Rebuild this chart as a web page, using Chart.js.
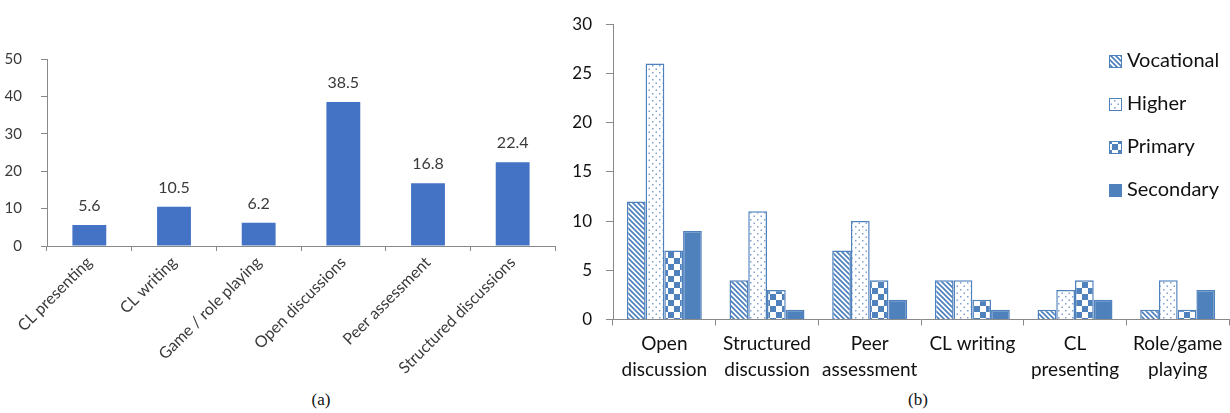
<!DOCTYPE html>
<html lang="en">
<head>
    <meta charset="UTF-8">
    <title>Collaborative learning activities</title>
    <style>
        * { margin: 0; padding: 0; box-sizing: border-box; }
        body { width: 1230px; height: 413px; background: #fff; position: relative; overflow: hidden; font-family: Lato, "Open Sans", sans-serif; }
        #chartA { position: absolute; left: 0; top: 0; }
        #chartB { position: absolute; left: 560px; top: 0; }
        .caption { position: absolute; top: 390px; font-family: "Liberation Serif", "DejaVu Serif", serif; font-size: 17px; color: #111; transform: translateX(-50%); }
    </style>
    <script src="https://cdn.jsdelivr.net/npm/chart.js"></script>
</head>
<body>
    <canvas id="chartA" width="560" height="390"></canvas>
    <canvas id="chartB" width="670" height="390"></canvas>
    <div class="caption" style="left: 321px;">(a)</div>
    <div class="caption" style="left: 918px;">(b)</div>

    <script>
        // (a) share of activities
        const activitiesA = ['CL presenting', 'CL writing', 'Game / role playing', 'Open discussions', 'Peer assessment', 'Structured discussions'];
        const percentA = [5.6, 10.5, 6.2, 38.5, 16.8, 22.4];
        const ticksA = [0, 10, 20, 30, 40, 50];

        // (b) counts by education level
        const activitiesB = [['Open', 'discussion'], ['Structured', 'discussion'], ['Peer', 'assessment'], ['CL writing'], ['CL', 'presenting'], ['Role/game', 'playing']];
        const levels = ['Vocational', 'Higher', 'Primary', 'Secondary'];
        const vocational = [12, 4, 7, 4, 1, 1];
        const higher = [26, 11, 10, 4, 3, 4];
        const primary = [7, 3, 4, 2, 4, 1];
        const secondary = [9, 1, 2, 1, 2, 3];
        const ticksB = [0, 5, 10, 15, 20, 25, 30];

        const BLUE_A = '#4472C4';
        const BLUE_B = '#4F81BD';
        const AXIS = '#898989';

        function makePattern(kind) {
            const c = document.createElement('canvas');
            const ctx = c.getContext('2d');
            if (kind === 'stripes') {
                c.width = c.height = 5;
                ctx.fillStyle = '#fff';
                ctx.fillRect(0, 0, 5, 5);
                ctx.strokeStyle = BLUE_B;
                ctx.lineWidth = 1.7;
                ctx.beginPath();
                ctx.moveTo(-1, -1); ctx.lineTo(6, 6);
                ctx.moveTo(-1, 4); ctx.lineTo(1, 6);
                ctx.moveTo(4, -1); ctx.lineTo(6, 1);
                ctx.stroke();
            } else if (kind === 'dots') {
                c.width = c.height = 7;
                ctx.fillStyle = '#fff';
                ctx.fillRect(0, 0, 7, 7);
                ctx.fillStyle = '#7f9fd0';
                ctx.fillRect(1, 2, 1.5, 1.5);
                ctx.fillRect(4.5, 5.5, 1.5, 1.5);
            } else {
                c.width = c.height = 12;
                ctx.fillStyle = '#fff';
                ctx.fillRect(0, 0, 12, 12);
                ctx.fillStyle = BLUE_B;
                ctx.fillRect(0, 0, 6, 6);
                ctx.fillRect(6, 6, 6, 6);
            }
            return ctx.createPattern(c, 'repeat');
        }

        // value labels above the bars of (a)
        const valueLabels = {
            id: 'valueLabels',
            afterDatasetsDraw(chart) {
                const ctx = chart.ctx;
                const meta = chart.getDatasetMeta(0);
                ctx.save();
                ctx.font = '16px Lato';
                ctx.fillStyle = '#3a3a3a';
                ctx.textAlign = 'center';
                ctx.textBaseline = 'middle';
                meta.data.forEach((bar, i) => {
                    ctx.fillText(chart.data.datasets[0].data[i].toFixed(1), bar.x, bar.y - 19);
                });
                ctx.restore();
            }
        };

        // legend of (b) sits inside the plot area
        const innerLegend = {
            id: 'innerLegend',
            afterDatasetsDraw(chart) {
                const ctx = chart.ctx;
                const x = chart.chartArea.right - 120;
                ctx.save();
                ctx.font = '20px Lato';
                ctx.textBaseline = 'middle';
                chart.data.datasets.forEach((ds, i) => {
                    const y = 61 + i * 43;
                    ctx.fillStyle = ds.backgroundColor;
                    ctx.fillRect(x, y - 6, 13, 13);
                    ctx.strokeStyle = BLUE_B;
                    ctx.lineWidth = 1;
                    ctx.strokeRect(x + 0.5, y - 5.5, 12, 12);
                    ctx.fillStyle = '#111';
                    ctx.fillText(ds.label, x + 18, y);
                });
                ctx.restore();
            }
        };

        new Chart(document.getElementById('chartA'), {
            type: 'bar',
            data: {
                labels: activitiesA,
                datasets: [{
                    data: percentA,
                    backgroundColor: BLUE_A,
                    barPercentage: 0.4,
                    categoryPercentage: 1
                }]
            },
            options: {
                responsive: false,
                animation: false,
                layout: { padding: { top: 59, right: 5, left: 0, bottom: 0 } },
                plugins: { legend: { display: false }, tooltip: { enabled: false } },
                scales: {
                    x: {
                        afterFit: s => { s.height = 144; },
                        grid: { drawOnChartArea: false, drawTicks: true, tickLength: 5, color: AXIS },
                        border: { color: AXIS },
                        ticks: {
                            autoSkip: false, minRotation: 45, maxRotation: 45, padding: 2,
                            font: { family: 'Lato', size: 16 }, color: '#3a3a3a'
                        }
                    },
                    y: {
                        min: 0, max: 50,
                        afterFit: s => { s.width = 47; },
                        afterBuildTicks: s => { s.ticks = ticksA.map(v => ({ value: v })); },
                        grid: { drawOnChartArea: false, drawTicks: true, tickLength: 6, color: AXIS },
                        border: { color: AXIS },
                        ticks: { padding: 19, font: { family: 'Lato', size: 15 }, color: '#3a3a3a' }
                    }
                }
            },
            plugins: [valueLabels]
        });

        const patterns = [makePattern('stripes'), makePattern('dots'), makePattern('checker'), BLUE_B];
        const seriesB = [vocational, higher, primary, secondary];

        new Chart(document.getElementById('chartB'), {
            type: 'bar',
            data: {
                labels: activitiesB,
                datasets: levels.map((name, i) => ({
                    label: name,
                    data: seriesB[i],
                    backgroundColor: patterns[i],
                    borderColor: BLUE_B,
                    borderWidth: 1.5,
                    barPercentage: 1,
                    categoryPercentage: 0.73
                }))
            },
            options: {
                responsive: false,
                animation: false,
                layout: { padding: { top: 16, right: 1, left: 0, bottom: 0 } },
                plugins: { legend: { display: false }, tooltip: { enabled: false } },
                scales: {
                    x: {
                        afterFit: s => { s.height = 70.5; },
                        grid: { drawOnChartArea: false, drawTicks: true, tickLength: 6, color: AXIS },
                        border: { color: AXIS },
                        ticks: {
                            autoSkip: false, maxRotation: 0, padding: 6,
                            font: { family: 'Lato', size: 19, lineHeight: 1.35 }, color: '#111'
                        }
                    },
                    y: {
                        min: 0, max: 30,
                        afterFit: s => { s.width = 53; },
                        afterBuildTicks: s => { s.ticks = ticksB.map(v => ({ value: v })); },
                        grid: { drawOnChartArea: false, drawTicks: true, tickLength: 7, color: AXIS },
                        border: { color: AXIS },
                        ticks: { padding: 14, font: { family: 'Lato', size: 17 }, color: '#111' }
                    }
                }
            },
            plugins: [innerLegend]
        });
    </script>
</body>
</html>
